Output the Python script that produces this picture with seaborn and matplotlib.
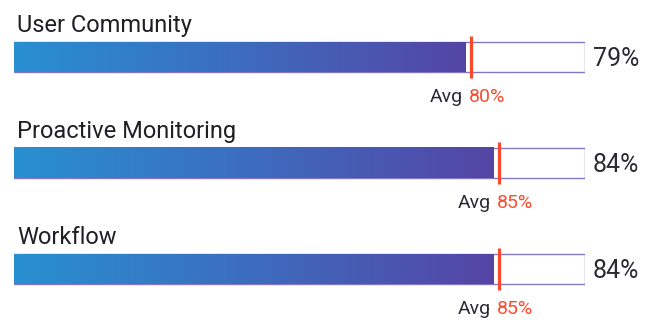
import numpy as np
import pandas as pd
import matplotlib
matplotlib.use('Agg')
import matplotlib.pyplot as plt
import seaborn as sns
from matplotlib.colors import LinearSegmentedColormap

categories = ['User Community', 'Proactive Monitoring', 'Workflow']
scores = [79, 84, 84]
averages = [80, 85, 85]
full = [100, 100, 100]

sns.set_style('white')
plt.rcParams['font.family'] = ['Roboto', 'DejaVu Sans']

df = pd.DataFrame({'cat': categories, 'score': scores, 'avg': averages, 'full': full})

fig = plt.figure(figsize=(6.63, 3.2), dpi=100)
ax = fig.add_axes([14 / 663, 0, 571 / 663, 1])

px = 1 / 106  # one pixel in y data units
bar_h = 30 * px
# background (empty) track
sns.barplot(data=df, y='cat', x='full', orient='h', color='white', width=bar_h,
            edgecolor='#8677c6', linewidth=1.0, ax=ax)

grad = LinearSegmentedColormap.from_list('g', ['#2890d1', '#3d6cbe', '#5545a5'])
g = np.linspace(0, 1, 256).reshape(1, -1)
for i, row in df.iterrows():
    ax.imshow(g, cmap=grad, aspect='auto', extent=[0, row['score'], i + bar_h / 2, i - bar_h / 2],
              zorder=3, interpolation='bicubic')
    # avg marker
    ax.plot([row['avg'], row['avg']], [i - 21 * px, i + 21 * px], color='#fa4a2b', lw=2.3,
            zorder=5, solid_capstyle='butt')
    # title above bar
    ax.text(0.5, i - 25 * px, row['cat'], fontsize=17, color='#1f1f24', ha='left', va='baseline')
    # value to the right
    ax.text(101.4, i + 9 * px, f"{row['score']}%", fontsize=18, color='#2a2a33', ha='left',
            va='baseline', clip_on=False)
    # avg annotation
    ax.text(row['avg'] - 1.4, i + 45 * px, 'Avg', fontsize=14, color='#2a2a33', ha='right',
            va='baseline')
    ax.text(row['avg'] - 0.35, i + 45 * px, f"{row['avg']}%", fontsize=14, color='#f94c30',
            ha='left', va='baseline')

ax.set_xlim(0, 100)
ax.set_ylim(2 + 51 * px, -57 * px)
ax.axis('off')

fig.savefig('out.png', dpi=100)
